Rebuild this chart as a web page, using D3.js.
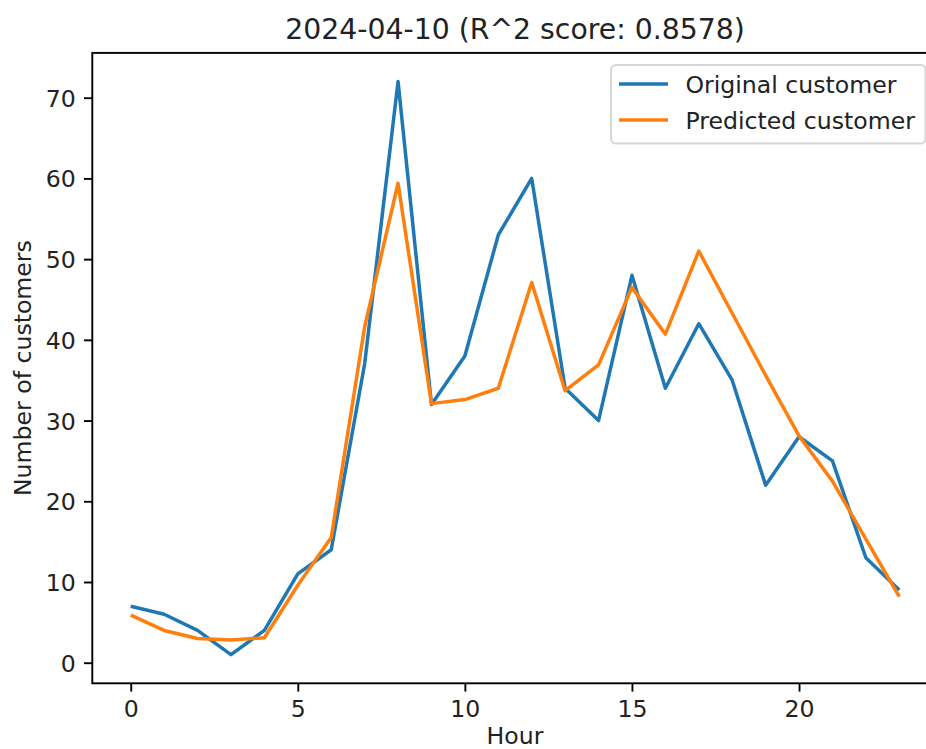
<!DOCTYPE html>
<html>
<head>
<meta charset="utf-8">
<script src="https://cdn.jsdelivr.net/npm/d3@7"></script>
<style>
  html, body { margin: 0; padding: 0; background: #fff; overflow: hidden; }
  svg { display: block; font-family: "DejaVu Sans", sans-serif; }
</style>
</head>
<body>
<svg id="chart" width="926" height="749"></svg>
<script>
// ---- data ----
const hours = [0,1,2,3,4,5,6,7,8,9,10,11,12,13,14,15,16,17,18,19,20,21,22,23];
const originalCustomers = [7,6,4,1,4,11,14,37,72,32,38,53,60,34,30,48,34,42,35,22,28,25,13,9];
const predictedCustomers = [5.9,4.0,3.0,2.8,3.1,9.6,15.5,41.6,59.4,32.1,32.6,34.0,47.1,33.7,36.9,46.5,40.7,51.0,43.3,35.6,28.1,22.5,15.3,8.2];
const xTicks = [0,5,10,15,20];
const yTicks = [0,10,20,30,40,50,60,70];
const seriesNames = ["Original customer", "Predicted customer"];
const titleText = "2024-04-10 (R^2 score: 0.8578)";
const xLabel = "Hour";
const yLabel = "Number of customers";

// ---- layout ----
const svg = d3.select("#chart");
const axLeft = 92.3, axRight = 937.7, axTop = 52.9, axBottom = 683.3;
const colors = ["#1f77b4", "#ff7f0e"];
const fs = 23.6;

const x = d3.scaleLinear().domain([-1.15, 24.15]).range([axLeft, axRight]);
const y = d3.scaleLinear().domain([-2.55, 75.55]).range([axBottom, axTop]);

// lines
const series = [originalCustomers, predictedCustomers];
const line = d3.line().x((d, i) => x(hours[i])).y(d => y(d));
series.forEach((s, k) => {
  svg.append("path")
    .datum(s)
    .attr("d", line)
    .attr("fill", "none")
    .attr("stroke", colors[k])
    .attr("stroke-width", 3.5)
    .attr("stroke-linejoin", "round")
    .attr("stroke-linecap", "butt");
});

// axes
const xAxis = d3.axisBottom(x).tickValues(xTicks).tickSize(8.3).tickPadding(4).tickFormat(d3.format("d"));
const yAxis = d3.axisLeft(y).tickValues(yTicks).tickSize(8.3).tickPadding(8.2).tickFormat(d3.format("d"));

const gx = svg.append("g").attr("transform", `translate(0,${axBottom})`).call(xAxis);
const gy = svg.append("g").attr("transform", `translate(${axLeft},0)`).call(yAxis);
[gx, gy].forEach(g => {
  g.select(".domain").remove();
  g.selectAll(".tick line").attr("stroke", "#000").attr("stroke-width", 1.9);
  g.selectAll(".tick text").attr("fill", "#222").attr("font-size", fs).attr("font-family", "DejaVu Sans");
});
gx.selectAll(".tick text").attr("dy", null).attr("y", 33.5);
gy.selectAll(".tick text").attr("dy", "0.36em");

// frame (spines)
svg.append("rect")
  .attr("x", axLeft).attr("y", axTop)
  .attr("width", axRight - axLeft).attr("height", axBottom - axTop)
  .attr("fill", "none").attr("stroke", "#000").attr("stroke-width", 1.9);

// title
svg.append("text")
  .attr("x", (axLeft + axRight) / 2).attr("y", 39)
  .attr("text-anchor", "middle")
  .attr("font-size", 28.3).attr("fill", "#222")
  .text(titleText);

// axis labels
svg.append("text")
  .attr("x", (axLeft + axRight) / 2).attr("y", 743.5)
  .attr("text-anchor", "middle")
  .attr("font-size", fs).attr("fill", "#222")
  .text(xLabel);
svg.append("text")
  .attr("transform", `translate(31,${(axTop + axBottom) / 2}) rotate(-90)`)
  .attr("text-anchor", "middle")
  .attr("font-size", fs).attr("fill", "#222")
  .text(yLabel);

// legend
const lg = svg.append("g");
lg.append("rect")
  .attr("x", 611).attr("y", 65)
  .attr("width", 314.5).attr("height", 78.5)
  .attr("rx", 4.7).attr("ry", 4.7)
  .attr("fill", "rgba(255,255,255,0.8)")
  .attr("stroke", "#d6d6d6").attr("stroke-width", 2);
seriesNames.forEach((name, k) => {
  const yy = 84 + k * 36;
  lg.append("line")
    .attr("x1", 619).attr("x2", 668)
    .attr("y1", yy).attr("y2", yy)
    .attr("stroke", colors[k]).attr("stroke-width", 3.5);
  lg.append("text")
    .attr("x", 685.5).attr("y", yy + 8.6)
    .attr("font-size", fs).attr("fill", "#222")
    .text(name);
});
</script>
</body>
</html>
